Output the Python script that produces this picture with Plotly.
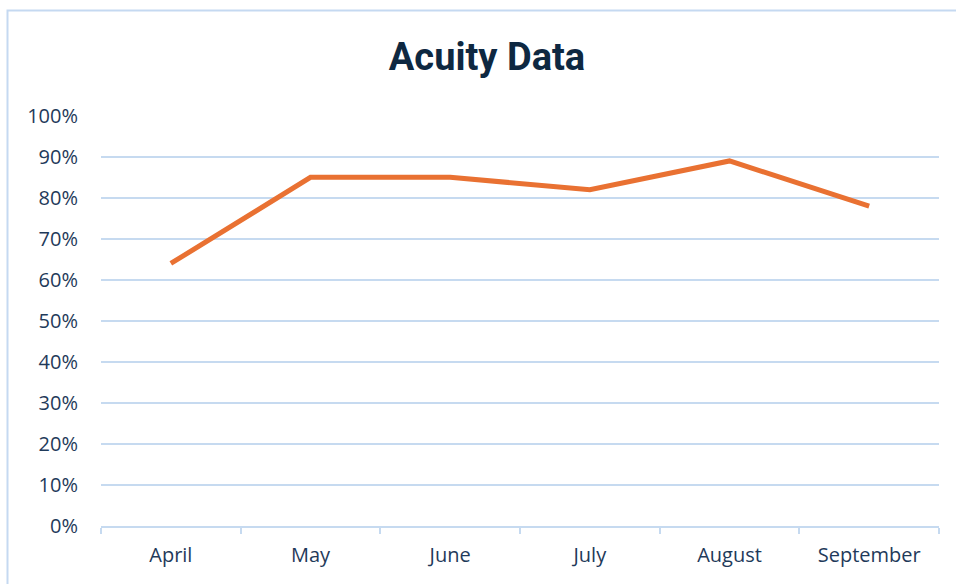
import plotly.graph_objects as go

months = ["April", "May", "June", "July", "August", "September"]
acuity = [0.64, 0.85, 0.85, 0.82, 0.89, 0.78]
y_ticks = [i / 10 for i in range(11)]
y_tick_labels = [f"{i * 10}%" for i in range(11)]

TEXT = "#1F3A5A"
GRID = "#C6DAF0"

fig = go.Figure()
fig.add_trace(go.Scatter(
    x=months, y=acuity, mode="lines",
    line=dict(color="#E97132", width=5),
    hoverinfo="x+y",
))

L, R, T, B = 101, 17, 115, 58
W, H = 956, 584
pw, ph = W - L - R, H - T - B

fig.update_layout(
    width=W, height=H,
    margin=dict(l=L, r=R, t=T, b=B, pad=0),
    paper_bgcolor="white", plot_bgcolor="white",
    showlegend=False,
    title=dict(text="<b>Acuity Data</b>", x=487 / W, xref="container", xanchor="center",
               y=1 - 57 / H, yref="container", yanchor="middle",
               font=dict(family="Roboto", size=38, color="#0E2841")),
    font=dict(family="Open Sans", size=20, color=TEXT),
    xaxis=dict(
        type="category", range=[-0.5, 5.5], tickson="boundaries",
        showgrid=False, showline=True, linecolor=GRID, linewidth=2,
        ticks="outside", ticklen=6, tickcolor=GRID, tickwidth=2,
        ticklabelstandoff=10, zeroline=False,
        tickfont=dict(family="Open Sans", size=20, color=TEXT),
    ),
    yaxis=dict(
        range=[0, 1.002], tickvals=y_ticks, ticktext=y_tick_labels,
        showgrid=True, gridcolor=GRID, gridwidth=2,
        showline=False, zeroline=False, ticks="",
        ticklabelstandoff=22,
        tickfont=dict(family="Open Sans", size=20, color=TEXT),
    ),
    shapes=[dict(
        type="rect", xref="paper", yref="paper",
        x0=(7.5 - L) / pw, x1=(975 - L) / pw,
        y0=-(600 - (H - B)) / ph, y1=((H - B) - 10.5) / ph,
        line=dict(color="#C5D9F1", width=2), fillcolor="rgba(0,0,0,0)",
        layer="below",
    )],
)

fig.write_html("out.html", config={"displayModeBar": False},
               post_script="document.body.style.margin='0';")
